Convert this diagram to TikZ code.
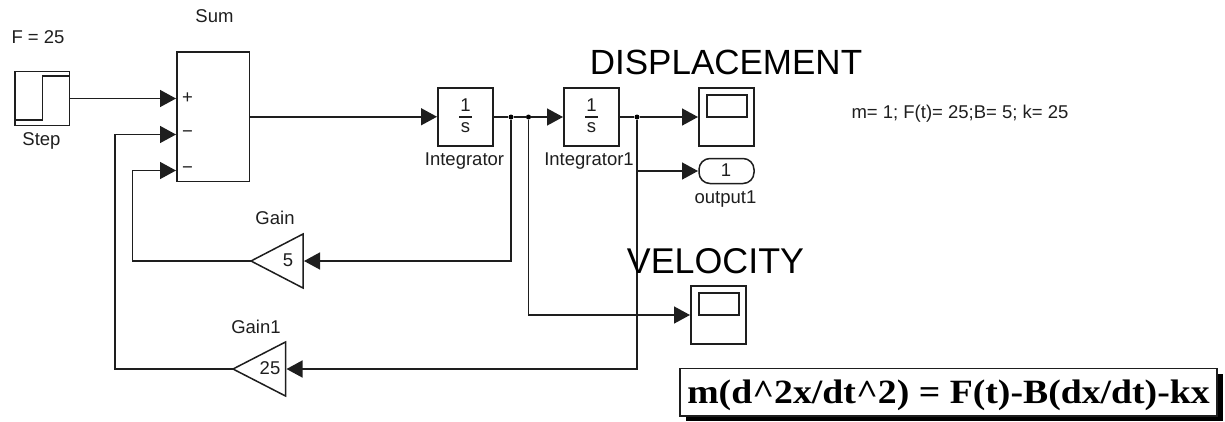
\documentclass[tikz,border=0pt]{standalone}
\usepackage{graphicx}
\usepackage{fontspec}
\setmainfont{Liberation Sans}
\newfontfamily\eqfont{Liberation Serif}
\usetikzlibrary{arrows.meta,calc}
\definecolor{ink}{HTML}{1E1E1E}
\tikzset{
  wire/.style={draw=ink,line width=1.5pt},
  arrowwire/.style={wire,-{Triangle[length=16pt,width=17pt]},shorten >=1pt},
  blockbox/.style={draw=ink,line width=1.5pt,fill=white,rectangle,inner sep=0pt,outer sep=0pt},
  lbl/.style={font=\fontsize{18.5}{20}\selectfont,text=ink,inner sep=0pt},
  big/.style={font=\fontsize{35}{38}\selectfont,text=black,inner sep=0pt},
  dotj/.style={circle,fill=black,inner sep=0pt,minimum size=5pt},
  gaintri/.style={draw=ink,line width=1.5pt,fill=white,line join=miter}
}
\begin{document}
\begin{tikzpicture}[x=1pt,y=-1pt]
\useasboundingbox (0,0) rectangle (1225,421);
% blocks
\node[blockbox,minimum width=54.5pt,minimum height=54pt] (step) at (42.25,98.5) {};
\draw[wire] (16,120) -- (42.5,120) -- (42.5,76) -- (69,76);
\node[blockbox,minimum width=72.5pt,minimum height=129.5pt] (sum) at (213.25,116.75) {};
\node[blockbox,minimum width=55pt,minimum height=58pt] (int) at (465.5,117) {};
\node[blockbox,minimum width=55pt,minimum height=58pt] (intb) at (591.5,117) {};
\node[blockbox,minimum width=55pt,minimum height=58pt] (scopea) at (726.5,117) {};
\node[blockbox,minimum width=40pt,minimum height=22pt] (scopeascreen) at (727,106) {};
\node[blockbox,rounded corners=11pt,minimum width=55pt,minimum height=25pt] (out) at (726.5,171) {};
\node[blockbox,minimum width=55pt,minimum height=58pt] (scopeb) at (718.5,315) {};
\node[blockbox,minimum width=40pt,minimum height=22pt] (scopebscreen) at (719,304) {};
% gains
\coordinate (gaintip) at (251,261);
\coordinate (gainin) at (303,261);
\draw[gaintri] (gaintip) -- (303,234) -- (303,288) -- cycle;
\coordinate (gainbtip) at (233,369);
\coordinate (gainbin) at (285.5,369);
\draw[gaintri] (gainbtip) -- (285.5,342) -- (285.5,396) -- cycle;
% ports
\coordinate (sumA) at (177,98.5);
\coordinate (sumB) at (177,134.5);
\coordinate (sumC) at (177,170.5);
\coordinate (sumout) at (249.5,116.75);
% junctions
\node[dotj] (j1) at (511,117) {};
\node[dotj] (j2) at (528.5,117) {};
\node[dotj] (j3) at (637,117) {};
\coordinate (j3b) at (637,171);
% wires
\draw[arrowwire] (step.east |- sumA) -- (sumA);
\draw[arrowwire] (sumout) -- (sumout -| int.west);
\draw[wire] (int.east) -- (j1) -- (j2);
\draw[arrowwire] (j2) -- (intb.west);
\draw[wire] (intb.east) -- (j3);
\draw[arrowwire] (j3) -- (scopea.west);
\draw[arrowwire] (j3b) -- (out.west);
\draw[arrowwire] (j1) |- (gainin);
\draw[arrowwire] (j3) |- (gainbin);
\draw[arrowwire] (j2) |- (scopeb.west);
\draw[arrowwire] (gaintip) -| (132.5,170.5) -- (sumC);
\draw[arrowwire] (gainbtip) -| (115,134.5) -- (sumB);
% labels
\node[lbl] (lF) at (38,37) {F = 25};
\node[lbl] (lstep) at (41.5,141) {Step};
\node[lbl] (lsum) at (214.5,16.5) {Sum};
\node[lbl] (lplus) at (187.5,98.5) {+};
\node[lbl] (lminusa) at (187.5,134.5) {−};
\node[lbl] (lminusb) at (187.5,170.5) {−};
\node[lbl] (lint) at (464.5,161) {Integrator};
\node[lbl] (lintb) at (589,161) {Integrator1};
\node[lbl] (lout) at (725.5,199) {output1};
\node[lbl] (lgain) at (275,218) {Gain};
\node[lbl] (lgainb) at (256,327) {Gain1};
\node[lbl] (lg5) at (288,260) {5};
\node[lbl] (lg25) at (270,368) {25};
\node[lbl] (l1) at (726,170) {1};
\foreach \n/\cx in {a/465.5,b/591.5}{
  \node[lbl] (num\n) at (\cx,105) {1};
  \node[lbl] (den\n) at (\cx,128) {s};
  \draw[wire] (\cx-6.5,117) -- (\cx+6.5,117);
}
\node[big] (ldisp) at (726,62) {DISPLACEMENT};
\node[big,font=\fontsize{35.8}{38}\selectfont] (lvel) at (715.5,261) {VELOCITY};
\node[lbl] (lparams) at (960,114) {m= 1; F(t)= 25;B= 5; k= 25};
% equation
\fill[black] (686,374) rectangle (1223,421);
\node[draw=ink,line width=1.5pt,fill=white,minimum width=537pt,minimum height=47.5pt,inner sep=0pt,outer sep=0pt,font=\eqfont\bfseries\fontsize{34}{36}\selectfont] (eq) at (948.5,392) {\raisebox{-11pt}[0pt][0pt]{\scalebox{1.11}[1]{m(d\char`\^2x/dt\char`\^2) = F(t)-B(dx/dt)-kx}}};
\end{tikzpicture}
\end{document}
